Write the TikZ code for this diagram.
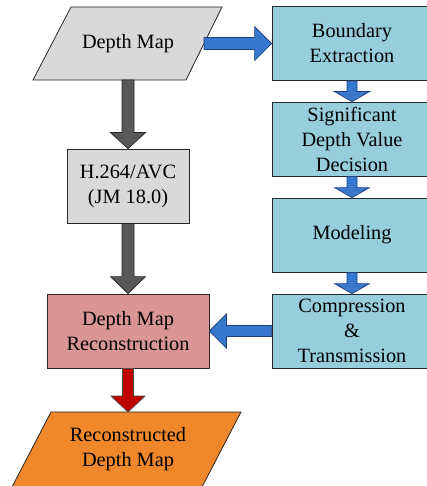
\documentclass[tikz,border=0pt]{standalone}
\usepackage{fontspec}
\setmainfont{Liberation Serif}
\usetikzlibrary{calc}
\definecolor{boxgray}{HTML}{D9D9D9}
\definecolor{aqua}{HTML}{96CEDC}
\definecolor{arrblue}{HTML}{3777CE}
\definecolor{arrblueline}{HTML}{1F3F7A}
\definecolor{arrgray}{HTML}{595959}
\definecolor{pinkbox}{HTML}{D99694}
\definecolor{arrred}{HTML}{C00000}
\definecolor{orangebox}{HTML}{F0872A}
\newcommand\DownBlk[6]{%
  \path[#1] let \p1=(#2), \p2=(#3) in
   (\x1-#4pt,\y1) -- (\x1-#4pt,\y2+#6pt) -- (\x1-#5pt,\y2+#6pt) -- (\x1,\y2)
   -- (\x1+#5pt,\y2+#6pt) -- (\x1+#4pt,\y2+#6pt) -- (\x1+#4pt,\y1) -- cycle;}
\newcommand\RightBlk[6]{%
  \path[#1] let \p1=(#2), \p2=(#3) in
   (\x1,\y1+#4pt) -- (\x2-#6pt,\y1+#4pt) -- (\x2-#6pt,\y1+#5pt) -- (\x2,\y1)
   -- (\x2-#6pt,\y1-#5pt) -- (\x2-#6pt,\y1-#4pt) -- (\x1,\y1-#4pt) -- cycle;}
\newcommand\LeftBlk[6]{%
  \path[#1] let \p1=(#2), \p2=(#3) in
   (\x1,\y1+#4pt) -- (\x2+#6pt,\y1+#4pt) -- (\x2+#6pt,\y1+#5pt) -- (\x2,\y1)
   -- (\x2+#6pt,\y1-#5pt) -- (\x2+#6pt,\y1-#4pt) -- (\x1,\y1-#4pt) -- cycle;}
\tikzset{
  txt/.style={align=center, font=\fontsize{20.3}{25}\selectfont, text=black},
  boxbase/.style={txt, draw=black!85, line width=0.8pt, inner sep=0pt},
  aquabox/.style={boxbase, fill=aqua, minimum width=160pt, minimum height=74pt},
  graybox/.style={boxbase, fill=boxgray, minimum width=122pt, minimum height=74pt},
  pinkbx/.style={boxbase, fill=pinkbox, minimum width=162pt, minimum height=74pt},
  para/.style={draw=black!85, line width=0.8pt},
  bluearr/.style={fill=arrblue, draw=arrblueline, line width=0.7pt},
  grayarr/.style={fill=arrgray, draw=black!85, line width=0.7pt},
  redarr/.style={fill=arrred, draw=black!70, line width=0.7pt}
}
\begin{document}
\begin{tikzpicture}[x=1pt,y=-1pt]
\useasboundingbox (0,0) rectangle (427,486);
% input parallelogram
\draw[para, fill=boxgray] (71,7) -- (222,7) -- (186,80) -- (33,80) -- cycle;
\node[txt] (dm) at (128,43.5) {Depth Map};
\coordinate (dmS) at (128,80);
\coordinate (dmE) at (204,43.5);
% right column
\node[aquabox] (be) at (352,43.5) {Boundary\\Extraction};
\node[aquabox] (sd) at (352,139) {Significant\\Depth Value\\Decision};
\node[aquabox] (mo) at (352,235) {Modeling};
\node[aquabox] (ct) at (352,331) {Compression\\\&\\Transmission};
% left column
\node[graybox] (h264) at (128,186) {H.264/AVC\\(JM 18.0)};
\node[pinkbx] (dmr) at (128,331) {Depth Map\\Reconstruction};
% output parallelogram
\draw[para, fill=orangebox] (51,412) -- (241,412) -- (202,487) -- (12,487) -- cycle;
\node[txt] (rdm) at (128,449.5) {Reconstructed\\Depth Map};
\coordinate (rdmN) at (128,412);
% arrows
\RightBlk{bluearr}{dmE}{be.west}{6}{17}{17}
\DownBlk{bluearr}{be.south}{sd.north}{5}{17.5}{10}
\DownBlk{bluearr}{sd.south}{mo.north}{5}{17.5}{10}
\DownBlk{bluearr}{mo.south}{ct.north}{5}{17.5}{10}
\LeftBlk{bluearr}{ct.west}{dmr.east}{5.5}{17}{17}
\DownBlk{grayarr}{dmS}{h264.north}{6}{17.5}{16}
\DownBlk{grayarr}{h264.south}{dmr.north}{6}{17.5}{17}
\DownBlk{redarr}{dmr.south}{rdmN}{5.5}{17}{16}
\end{tikzpicture}
\end{document}
